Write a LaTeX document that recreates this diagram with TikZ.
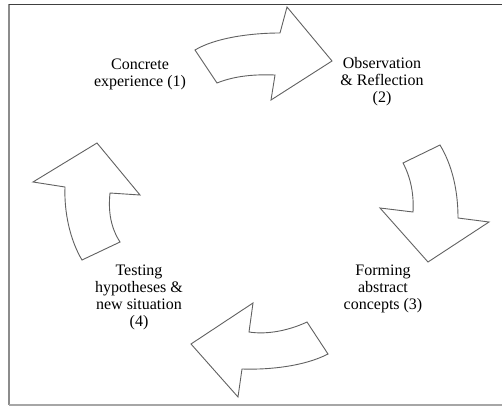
\documentclass[tikz,border=0pt]{standalone}
\usepackage{fontspec}
\setmainfont{Liberation Serif}
\begin{document}
\begin{tikzpicture}[x=1pt,y=-1pt,
  stage/.style={align=center,inner sep=0pt,font=\fontsize{16}{17}\selectfont},
  cyclearrow/.style={draw=black!62,line width=0.9pt,fill=white,line join=miter}]
\useasboundingbox (0,0) rectangle (502,406);
% frame
\draw[black!45,line width=2pt] (9,4) -- (9,405);
\draw[black!35,line width=2pt] (9,405) -- (502,405);
\draw[black!75,line width=1.2pt] (9,4.3) -- (502,4.3);

% stage labels
\node[stage] (exp) at (140,74) {Concrete\\experience (1)};
\node[stage] (obs) at (382,82) {Observation\\\& Reflection\\(2)};
\node[stage] (abs) at (383,289) {Forming\\abstract\\concepts (3)};
\node[stage] (tst) at (139,297) {Testing\\hypotheses \&\\new situation\\(4)};

% top arrow: experience -> observation
\draw[cyclearrow] (195,50) .. controls (215,38) and (250,33) .. (280,33)
  -- (287,7) -- (332,61) -- (271,100) -- (275,75)
  .. controls (250,74) and (232,77) .. (217,83) -- cycle;
% right arrow: observation -> concepts
\draw[cyclearrow] (403,163) -- (440,145)
  .. controls (452,165) and (458,190) .. (458,218)
  -- (489,222) -- (428,262) -- (380,208) -- (413,212)
  .. controls (414,195) and (411,178) .. (403,163) -- cycle;
% bottom arrow: concepts -> testing
\draw[cyclearrow] (253,303) -- (249,332)
  .. controls (268,335) and (290,330) .. (307,322)
  -- (328,354) .. controls (305,366) and (270,370) .. (242,369)
  -- (238,397) -- (191,344) -- cycle;
% left arrow: testing -> experience
\draw[cyclearrow] (97,143) -- (140,195) -- (110,193)
  .. controls (108,212) and (111,228) .. (120,242)
  -- (82,260) .. controls (70,240) and (64,212) .. (65,187)
  -- (33,182) -- cycle;
\end{tikzpicture}
\end{document}
